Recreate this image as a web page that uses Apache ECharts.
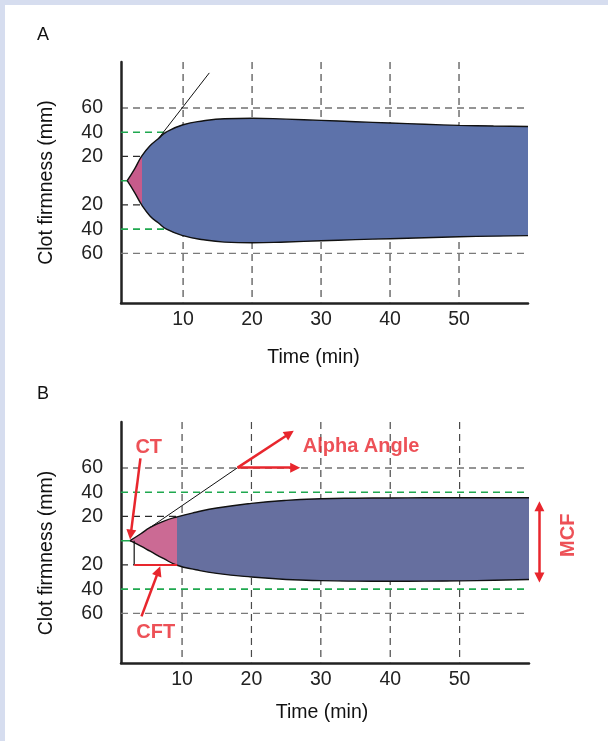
<!DOCTYPE html>
<html>
<head>
<meta charset="utf-8">
<script src="https://cdn.jsdelivr.net/npm/echarts@6/dist/echarts.min.js"></script>
<style>
html, body { margin: 0; padding: 0; background: #fff; }
#chart { width: 608px; height: 741px; }
</style>
</head>
<body>
<div id="chart"></div>
<script>
// axis labels
const timeTicks = [10, 20, 30, 40, 50];
const levelTicks = [-60, -40, -20, 20, 40, 60];

// panel A: clot firmness envelope (mm) over time (min)
const timesA = [1.9, 3, 4, 5.2, 6.4, 7.6, 10, 13, 16, 20, 25, 30, 35, 40, 45, 50, 55, 60];
const upperA = [0, 10, 20.3, 28.8, 34.6, 40.3, 46.2, 49.5, 51.2, 51.6, 50.8, 49.8, 48.7, 47.6, 46.6, 45.7, 45.1, 44.8];
const lowerA = [0, -10, -20, -29.1, -34.8, -40.1, -45.4, -48.8, -50.7, -51.3, -50.6, -49.6, -48.7, -47.9, -47.1, -46.3, -45.8, -45.4];
const pinkEndA = 4.0;
const tangentA = [[6.4, 34.6], [13.8, 89]];

// panel B
const timesB = [2.5, 4, 5.4, 7.3, 9.3, 12, 15, 20, 25, 30, 35, 40, 45, 50, 55, 60];
const upperB = [0, 5.5, 10.9, 16, 19.7, 23.5, 27, 30.8, 33.3, 34.6, 35.1, 35.3, 35.4, 35.4, 35.4, 35.4];
const lowerB = [0, -4.3, -8.7, -14.7, -20.3, -24, -27, -30, -32, -33, -33.4, -33.5, -33.4, -33.2, -32.7, -32.1];
const pinkEndB = 9.3;
const tangentB = [[5.4, 10.9], [18, 60.3]];

// reference lines [fromTime, toTime, level]
const darkDashA = [[1, 60, 60], [1, 4, 20], [1, 4, -20]];
const greyDashA = [[1, 60, -60]];
const greenDashA = [[1, 7.6, 40], [1, 7.6, -40]];
const greenBaseA = [[1, 1.9, 0]];

const darkDashB = [[1.2, 60, 60], [1.2, 9.3, 20], [1.2, 3.1, -20]];
const greyDashB = [[1.2, 60, -60]];
const greenDashB = [[1.2, 60, 40], [1.2, 60, -40]];
const greenBaseB = [[1.2, 2.5, 0]];

// CFT bracket: vertical at cftStart from 0 to cftLevel, then red to pinkEndB
const cftStart = 3.1;
const cftLevel = -20;

// annotation arrows in B [x1, y1, x2, y2]
const arrowsB = [
  [4.0, 68, 2.6, 5],        // CT
  [4.15, -62.5, 6.6, -25],  // CFT
  [18, 60.3, 25.5, 88.5],   // alpha angle, along tangent
  [18, 60.3, 26.3, 60.3]    // alpha angle, horizontal
];
const mcfArrow = [61.5, 28.5, -30.5];

const noteText = ['CT', 'CFT', 'Alpha Angle', 'MCF'];
const noteX = [5.2, 6.2, 35.8, 65.7];
const noteY = [77, -76, 77.5, 4.5];

const FONT = '"Liberation Sans", Arial, Helvetica, sans-serif';
const RED = '#e8262d';
const GREEN = '#1fa84f';

const series = [];

function seg(ax, pts, color, width, type, z) {
  series.push({
    type: 'line', xAxisIndex: ax, yAxisIndex: ax, data: pts,
    symbol: 'none', silent: true, z: z || 1,
    lineStyle: { color: color, width: width, type: type || 'solid' }
  });
}

function guides(ax, dark, grey, green, base) {
  timeTicks.forEach(t => seg(ax, [[t, 98], [t, -101]], '#4a4a4a', 1.2, [7, 5]));
  dark.forEach(g => seg(ax, [[g[0], g[2]], [g[1], g[2]]], '#2a2a2a', 1.2, [7, 5]));
  grey.forEach(g => seg(ax, [[g[0], g[2]], [g[1], g[2]]], '#7a7a7a', 1.3, [7, 5]));
  green.forEach(g => seg(ax, [[g[0], g[2]], [g[1], g[2]]], GREEN, 1.6, [7, 5]));
  base.forEach(g => seg(ax, [[g[0], g[2]], [g[1], g[2]]], GREEN, 1.6));
}

// each half of the envelope is filled from its curve to the zero line;
// the upper fill runs a hair below zero so no seam shows
function envelope(ax, times, upper, lower) {
  const idx = [];
  [[upper, -1], [lower, 0]].forEach(([vals, origin]) => {
    series.push({
      type: 'line', xAxisIndex: ax, yAxisIndex: ax,
      data: times.map((t, i) => [t, vals[i]]),
      smooth: true, symbol: 'none', silent: true, z: 3,
      lineStyle: { color: '#111', width: 1.4 },
      areaStyle: { opacity: 1, origin: origin }
    });
    idx.push(series.length - 1);
  });
  return idx;
}

guides(0, darkDashA, greyDashA, greenDashA, greenBaseA);
guides(1, darkDashB, greyDashB, greenDashB, greenBaseB);

const fillA = envelope(0, timesA, upperA, lowerA);
const fillB = envelope(1, timesB, upperB, lowerB);

seg(0, tangentA, '#111', 1, 'solid', 5);
seg(1, tangentB, '#111', 1, 'solid', 5);

// CFT bracket
seg(1, [[cftStart, 0], [cftStart, cftLevel]], '#111', 1.2, 'solid', 5);
seg(1, [[cftStart, cftLevel], [pinkEndB, cftLevel]], RED, 2, 'solid', 5);

series.push({
  type: 'lines', coordinateSystem: 'cartesian2d', xAxisIndex: 1, yAxisIndex: 1,
  clip: false, silent: true, z: 6,
  symbol: ['none', 'triangle'], symbolSize: 10,
  lineStyle: { color: RED, width: 2.5, opacity: 1, curveness: 0 },
  data: arrowsB.map(a => ({ coords: [[a[0], a[1]], [a[2], a[3]]] }))
});
series.push({
  type: 'lines', coordinateSystem: 'cartesian2d', xAxisIndex: 1, yAxisIndex: 1,
  clip: false, silent: true, z: 6,
  symbol: ['triangle', 'triangle'], symbolSize: 10,
  lineStyle: { color: RED, width: 2.5, opacity: 1, curveness: 0 },
  data: [{ coords: [[mcfArrow[0], mcfArrow[1]], [mcfArrow[0], mcfArrow[2]]] }]
});

series.push({
  type: 'scatter', xAxisIndex: 1, yAxisIndex: 1, clip: false, silent: true, z: 7,
  symbolSize: 1, itemStyle: { color: 'rgba(0,0,0,0)' },
  label: {
    show: true, position: 'inside', formatter: p => p.name,
    color: RED, fontSize: 20, fontWeight: 'bold', fontFamily: FONT
  },
  data: noteText.map((t, i) => ({
    name: t, value: [noteX[i], noteY[i]],
    label: t === 'MCF' ? { rotate: 90 } : {}
  }))
});

function xAxisFor(gi, min, gap, namePad) {
  return {
    type: 'value', gridIndex: gi, min: min, max: 60,
    axisLine: { show: true, onZero: false, lineStyle: { color: '#222', width: 2.5 } },
    axisTick: { show: false }, splitLine: { show: false },
    axisLabel: { customValues: timeTicks, color: '#222', fontSize: 19.5, fontFamily: FONT, margin: 7 },
    name: 'Time (min)', nameLocation: 'middle', nameGap: gap,
    nameTextStyle: { color: '#111', fontSize: 19.5, fontFamily: FONT, padding: namePad }
  };
}

function yAxisFor(gi, namePad) {
  return {
    type: 'value', gridIndex: gi, min: -101, max: 98,
    axisLine: { show: true, onZero: false, lineStyle: { color: '#222', width: 2.5 } },
    axisTick: { show: false }, splitLine: { show: false },
    axisLabel: {
      customValues: levelTicks, formatter: v => String(Math.abs(v)),
      color: '#222', fontSize: 19.5, fontFamily: FONT, margin: 18, padding: [0, 0, 5, 0]
    },
    name: 'Clot firmness (mm)', nameLocation: 'middle', nameGap: 64,
    nameTextStyle: { color: '#111', fontSize: 19.5, fontFamily: FONT, padding: namePad }
  };
}

const chart = echarts.init(document.getElementById('chart'));
chart.setOption({
  animation: false,
  backgroundColor: '#fff',
  graphic: [
    { type: 'rect', left: 0, top: 0, shape: { width: 608, height: 5 }, style: { fill: '#d6ddef' } },
    { type: 'rect', left: 0, top: 0, shape: { width: 5, height: 741 }, style: { fill: '#d6ddef' } }
  ],
  title: [
    { text: 'A', left: 37, top: 26, padding: 0, textStyle: { fontSize: 18, fontWeight: 'normal', color: '#111', fontFamily: FONT } },
    { text: 'B', left: 37, top: 385, padding: 0, textStyle: { fontSize: 18, fontWeight: 'normal', color: '#111', fontFamily: FONT } }
  ],
  grid: [
    { left: 121, top: 62, width: 407, height: 241 },
    { left: 121, top: 422, width: 408, height: 241 }
  ],
  xAxis: [xAxisFor(0, 1, 45, [0, 22, 0, 0]), xAxisFor(1, 1.2, 40, [0, 6, 0, 0])],
  yAxis: [yAxisFor(0, [0, 0, 0, 0]), yAxisFor(1, [0, 21, 0, 0])],
  visualMap: [
    {
      type: 'piecewise', show: false, dimension: 0, seriesIndex: fillA,
      pieces: [{ gte: 0, lte: pinkEndA, color: '#c75b8b' }, { gt: pinkEndA, lte: 100, color: '#5d72aa' }]
    },
    {
      type: 'piecewise', show: false, dimension: 0, seriesIndex: fillB,
      pieces: [{ gte: 0, lte: pinkEndB, color: '#cb6a94' }, { gt: pinkEndB, lte: 100, color: '#666f9f' }]
    }
  ],
  series: series
});
</script>
</body>
</html>
